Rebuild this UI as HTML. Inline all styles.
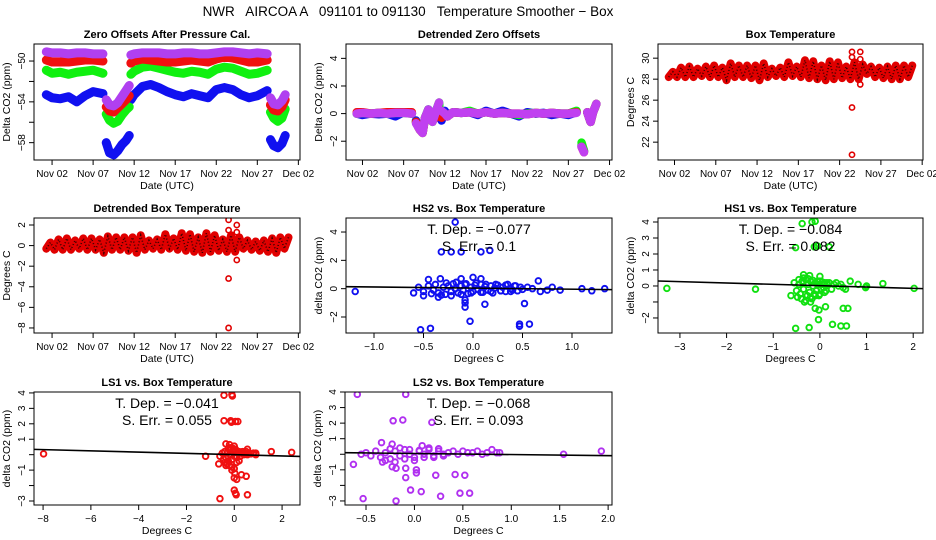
<!DOCTYPE html>
<html><head><meta charset="utf-8"><style>
body{margin:0;background:#fff;}
svg{display:block;font-family:"Liberation Sans",sans-serif;}
</style></head><body>
<svg id="chart" width="936" height="540" viewBox="0 0 936 540" xmlns="http://www.w3.org/2000/svg">
<rect width="936" height="540" fill="#fff"/>
<text x="408" y="16" font-size="13.5" text-anchor="middle" style="white-space:pre" xml:space="preserve">NWR   AIRCOA A   091101 to 091130   Temperature Smoother − Box</text>
</svg>
<script>
// ---- Panel 1: zero offsets ----
const p1T=[1.3,2,3,4,5,6,7,8.2,8.6,9,9.5,10,10.5,11,11.4,11.6,12,13,14,15,16,17,18,19,20,21,22,23,24,25,26,27,28.2,28.6,29,29.5,30,30.4];
const p1Blue=[-53.3,-53.6,-53.7,-53.5,-54,-53.4,-53,-53.2,-58,-59,-59.2,-58.8,-58.2,-57.8,-57.3,-53.8,-53.3,-52.5,-52.3,-52.6,-53,-53.3,-53.5,-53.2,-53.4,-53.6,-52.8,-52.6,-52.8,-53.3,-53.6,-53.4,-52.9,-57.7,-58.3,-58.5,-58.1,-57.3];
const p1Green=[-50.9,-51.2,-51.1,-51.3,-51.1,-51,-50.9,-51.2,-55.2,-55.8,-56.1,-55.9,-55.3,-54.8,-54.5,-51.3,-51,-50.6,-50.5,-50.7,-50.9,-51.1,-51.2,-51,-51.1,-51.3,-50.8,-50.6,-50.7,-51,-51.3,-51.2,-50.9,-55,-55.6,-55.9,-55.6,-54.7];
const p1Red=[-49.9,-50.1,-50.1,-50.1,-50,-49.9,-49.9,-50,-54.5,-54.9,-55,-54.6,-54.2,-53.8,-53.4,-50.2,-50,-49.8,-49.9,-50,-50.1,-50.1,-50,-49.9,-50,-50.1,-49.8,-49.6,-49.7,-49.9,-50.1,-50.1,-49.9,-54.3,-54.8,-54.9,-54.5,-53.8];
const p1Purple=[-49.1,-49.2,-49.2,-49.3,-49.2,-49.2,-49.3,-49.3,-53.8,-54.3,-54.4,-54.1,-53.5,-52.9,-52.4,-49.4,-49.3,-49.2,-49.2,-49.2,-49.3,-49.3,-49.2,-49.2,-49.3,-49.3,-49.2,-49.1,-49.1,-49.2,-49.3,-49.2,-49.3,-53.6,-54.2,-54.3,-53.9,-53.3];
const p1Gaps=[8.4,11.5,28.4];
// ---- Panel 2: detrended zero offsets ----
const p2T=[1.3,2,3,4,5,6,7,8,8.2,8.5,8.8,9,9.3,9.6,10,10.5,11,11.3,11.35,11.6,12,12.3,13,14,15,16,17,18,19,20,21,22,23,24,25,26,27,28,28.3,28.6,28.9,29.3,29.7,30,30.4];
const p2Blue=[0,-0.1,0,-0.05,0,-0.2,0.1,0,4.7,-0.5,-0.9,-1.1,-1.3,-0.3,0.3,-0.5,0.3,0.7,0.2,-0.5,0.2,-0.2,0.1,0.05,0.1,-0.1,0.2,0,0.2,0,-0.2,0.1,0,0.05,-0.1,0,-0.1,0.1,2.6,-2.3,-2.7,0.1,-0.6,0.1,0.7];
const p2Green=[0,0.05,0,0.05,0,0.05,0.05,0,4.0,-0.6,-1,-1.2,-1.4,-0.3,0.3,-0.6,0.3,0.8,0.2,0.2,0,-0.2,0.1,0.05,0.2,0,0.1,0,0.05,0,-0.1,0,0.05,0,0.05,0,0,0.2,2.5,-2.1,-2.7,0.1,-0.6,0.1,0.7];
const p2Red=[0.1,0.1,0,0.05,0.1,0.1,0.1,0.1,3.9,-0.6,-1,-1.2,-1.4,-0.3,0.2,-0.5,-0.2,-0.2,-0.2,-0.3,0,-0.2,0.1,0.05,0.1,0,0.1,0,0.05,0,0,-0.05,0.05,0,0.05,0,0,0.1,2.3,-2.4,-2.8,0.1,-0.6,0.1,0.7];
const p2Purple=[0,0.05,0,0.05,0,0.05,0.05,0,3.9,-0.7,-1,-1.2,-1.4,-0.3,0.3,-0.6,0.3,0.8,-3,0.2,0,-0.2,0.1,0.05,0.1,0,0.1,0,0.05,0,0,-0.05,0.05,0,0.05,0,0,0.05,2.2,-2.4,-2.8,0.1,-0.6,0.1,0.7];
// ---- Panel 3: box temperature (daily min/max) ----
const p3Day=[1,2,3,4,5,6,7,8,9,10,11,12,13,14,15,16,17,18,19,20,21,22,23,24,25,26,27,28,29,30];
const p3Max=[28.7,29.1,29.2,29.0,29.2,29.3,29.1,29.5,29.3,29.3,29.3,29.5,29.0,29.1,29.6,29.2,29.8,29.7,29.3,29.7,29.6,29.2,29.6,29.4,29.2,29.1,29.2,29.3,29.3,29.3];
const p3Min=[28.2,28.2,28.2,28.2,28.3,28.2,28.2,27.9,28.2,28.2,28.1,27.9,28.2,28.3,28.2,28.3,28.2,28.1,28.0,27.9,28.0,28.1,28.0,28.0,28.5,28.2,28.1,28.0,28.0,28.2];
const p3OutT=[23.5,23.5,23.5,23.5,24.5,24.5,24.5];
const p3OutV=[30.6,30.1,25.3,20.8,30.6,29.9,27.5];
// ---- Panel 4: detrended box temperature ----
const p4Max=[0.3,0.6,0.7,0.5,0.7,0.7,0.6,0.9,0.8,0.8,0.8,1.0,0.5,0.6,1.1,0.7,1.2,1.1,0.8,1.2,1.0,0.6,1.0,0.8,0.5,0.4,0.5,0.7,0.8,0.8];
const p4Min=[-0.3,-0.4,-0.4,-0.4,-0.3,-0.4,-0.4,-0.7,-0.4,-0.4,-0.5,-0.7,-0.4,-0.3,-0.4,-0.3,-0.4,-0.5,-0.6,-0.7,-0.6,-0.5,-0.6,-0.6,-0.3,-0.4,-0.5,-0.6,-0.7,-0.3];
const p4OutT=[23.5,23.5,23.5,23.5,24.5,24.5,24.5];
const p4OutV=[2.5,1.5,-3.2,-8,2,1.3,-1.4];
// ---- Scatter panels ----
const hs2X=[-1.19,-0.53,-0.43,-0.32,-0.22,-0.12,0.08,0.17,-0.18,-0.03,0.12,0.52,0.47,0.47,0.57,-0.08,-0.08,-0.08,-0.45,-0.33,-0.12,0,0.08,0.66,0.68,0.8,0.88,1.1,1.2,1.33,-0.6,-0.5,-0.35,0.75,
 -0.55,-0.5,-0.45,-0.4,-0.38,-0.35,-0.3,-0.28,-0.25,-0.22,-0.2,-0.18,-0.15,-0.12,-0.1,-0.08,-0.05,-0.02,0,0.02,0.05,0.08,0.1,0.12,0.15,0.18,0.2,0.22,0.25,0.28,0.3,0.33,0.35,0.38,0.4,0.42,0.45,0.48,0.5,0.55,0.6,-0.42,-0.32,-0.22,-0.12,-0.02,0.08,0.18,0.28,0.38,-0.27,-0.17,-0.07,0.03,0.13,0.23,0.33,0.43];
const hs2Y=[-0.2,-2.9,-2.8,2.6,2.6,2.6,2.6,2.7,4.7,-2.3,-1.1,-1.05,-2.5,-2.65,-2.5,-1.3,-1.0,-0.8,0.65,0.7,0.7,0.8,0.7,0.55,-0.2,0.1,-0.1,0,-0.15,0,-0.3,-0.5,-0.6,-0.1,
 0.1,-0.2,0.2,-0.1,0.3,-0.3,0.1,-0.4,0.2,-0.2,0.35,0,-0.3,0.2,-0.1,0.3,-0.35,0.1,-0.2,0.25,-0.05,0.3,-0.25,0.15,-0.1,0.2,-0.3,0.05,0.25,-0.15,0.1,-0.2,0.3,0,-0.1,0.2,-0.15,0.1,-0.05,0.1,0,-0.35,-0.45,-0.5,-0.4,-0.3,-0.25,-0.2,-0.15,-0.2,0.4,0.45,0.35,0.4,0.3,0.3,0.25,0.2];
const hs1X=[-3.28,-1.38,-0.38,-0.17,-0.1,-0.52,-0.12,-0.05,0.2,-0.52,-0.23,0.27,0.45,0.57,-0.03,-0.02,-0.1,0.12,0.5,0.6,-0.62,-0.33,-0.2,0,-0.35,-0.22,0.65,0.82,1.0,1.35,2.02,0.98,0.55,
 -0.55,-0.5,-0.45,-0.42,-0.38,-0.35,-0.3,-0.27,-0.25,-0.22,-0.2,-0.17,-0.15,-0.12,-0.1,-0.07,-0.05,-0.02,0,0.03,0.05,0.08,0.1,0.13,0.15,0.2,0.25,0.3,0.35,0.4,0.45,0.5,-0.48,-0.4,-0.3,-0.2,-0.1,0,0.1,-0.45,-0.35,-0.25,-0.15,-0.05,0.05,0.15];
const hs1Y=[-0.15,-0.2,3.9,4.0,4.05,2.4,2.45,2.5,2.45,-2.65,-2.6,-2.4,-2.5,-2.5,-2.1,-1.5,-1.4,-1.3,-1.4,-1.4,-0.6,-1.0,-1.0,0.6,0.7,0.65,0.3,0.1,0,0.15,-0.15,-0.1,-0.2,
 0.2,-0.3,0.1,-0.5,0.3,-0.2,0.4,-0.6,0.1,-0.4,0.3,-0.8,0,-0.5,0.2,-0.3,0.1,-0.6,0.3,-0.2,0.1,-0.1,0.2,-0.3,0.1,0.2,-0.2,0.1,0.2,0,0.1,-0.1,-0.7,-0.8,-0.9,-0.7,-0.6,-0.5,-0.4,0.4,0.5,0.45,0.35,0.3,0.25,0.2];
const ls1X=[-7.98,-1.2,-0.43,-0.1,-0.08,-0.43,-0.15,-0.12,0.05,0.15,-0.6,0,0.05,0.08,0.55,-0.65,-0.35,-0.1,0,0.1,0.3,0.5,0.02,-0.35,-0.2,0,0.55,0.9,1.55,2.4,
 -0.6,-0.5,-0.45,-0.4,-0.35,-0.3,-0.25,-0.2,-0.15,-0.1,-0.05,0,0.05,0.1,0.15,0.2,0.25,0.3,0.35,0.4,0.45,0.5,0.55,0.6,0.7,0.8,0.9,-0.4,-0.3,-0.2,-0.1,0,0.1,0.2,-0.25,-0.15,-0.05,0.05];
const ls1Y=[0.05,-0.1,3.85,3.9,3.8,2.2,2.2,2.1,2.15,2.15,-2.85,-2.3,-2.5,-2.6,-2.6,-0.6,-0.7,-1.0,-1.5,-1.6,-1.3,-1.4,-1.2,0.7,0.65,0.55,0.35,0.1,0.2,0.15,
 -0.1,0.1,-0.3,0.2,-0.2,0.1,-0.4,0.3,0,-0.3,0.2,-0.1,0.3,-0.2,0.1,0.2,-0.1,0.1,0.2,0,0.1,0.2,0,0.1,0.05,0.1,0,-0.5,-0.6,-0.7,-0.8,-0.9,-0.5,-0.4,0.4,0.45,0.4,0.35];
const ls2X=[-0.59,-0.09,-0.22,-0.12,0.18,-0.63,-0.53,-0.19,-0.04,0.07,0.27,0.47,0.57,0.02,0.02,-0.09,-0.09,-0.19,0.22,0.42,0.52,-0.34,-0.23,0.08,1.54,1.93,0.88,-0.23,-0.33,
 -0.55,-0.5,-0.45,-0.4,-0.35,-0.3,-0.25,-0.2,-0.15,-0.1,-0.05,0,0.05,0.1,0.15,0.2,0.25,0.3,0.35,0.4,0.45,0.5,0.55,0.6,0.65,0.7,0.75,0.8,0.85,-0.3,-0.2,-0.1,0,0.1,0.2,0.3,-0.25,-0.15,-0.05,0.05,0.15,0.25];
const ls2Y=[3.85,3.85,2.15,2.2,2.05,-0.65,-2.85,-3.0,-2.3,-2.4,-2.7,-2.5,-2.5,-1.0,-1.2,-1.5,-0.9,-0.9,-1.35,-1.3,-1.35,0.75,0.65,0.55,0.0,0.2,0.1,-0.8,-0.5,
 0,0.1,-0.1,0.2,-0.2,0.1,-0.3,0.2,-0.1,0.3,0,-0.2,0.2,0,0.3,-0.1,0.2,0,0.1,0.2,0,0.2,0.1,0.1,0.2,0,0.1,0.3,0.1,-0.4,-0.5,-0.3,-0.4,-0.2,-0.2,-0.1,0.35,0.4,0.3,0.25,0.4,0.35];
const dateTicks=[2,7,12,17,22,27,32];
const dateLabels=["Nov 02","Nov 07","Nov 12","Nov 17","Nov 22","Nov 27","Dec 02"];

const svg=document.getElementById('chart');
const NS='http://www.w3.org/2000/svg';
function mk(tag,attrs,parent){const e=document.createElementNS(NS,tag);for(const k in attrs)e.setAttribute(k,attrs[k]);(parent||svg).appendChild(e);return e;}

function panel(o){
  const g=mk('g',{});
  
  
  const sx=v=>o.box[0]+(v-o.xd[0])/(o.xd[1]-o.xd[0])*(o.box[2]-o.box[0]);
  const sy=v=>o.box[3]-(v-o.yd[0])/(o.yd[1]-o.yd[0])*(o.box[3]-o.box[1]);
  const t=mk('text',{x:(o.box[0]+o.box[2])/2,y:o.box[1]-6,'font-size':11,'font-weight':'bold','text-anchor':'middle'},g);
  t.textContent=o.title;
  
  
  o.xt.forEach((v,i)=>{const x=sx(v);
    mk('line',{x1:x,x2:x,y1:o.box[3],y2:o.box[3]+5,stroke:'#000'},g);
    const l=mk('text',{x:x,y:o.box[3]+17,'font-size':10,'text-anchor':'middle'},g);
    l.textContent=o.xl[i];
    
    });
  o.yt.forEach((v,i)=>{const y=sy(v);
    mk('line',{x1:o.box[0]-5,x2:o.box[0],y1:y,y2:y,stroke:'#000'},g);
    if(o.yl[i]!==''){const l=mk('text',{x:o.box[0]-9,y:y,'font-size':10,'text-anchor':'middle',transform:`rotate(-90 ${o.box[0]-9} ${y})`},g);
    l.textContent=o.yl[i];
    
    }});
  const xt=mk('text',{x:(o.box[0]+o.box[2])/2,y:o.box[3]+29,'font-size':10.5,'text-anchor':'middle'},g);
  xt.textContent=o.xlab;
  
  
  const yc=(o.box[1]+o.box[3])/2,yx=o.box[0]-24;
  const yt=mk('text',{x:yx,y:yc,'font-size':10.5,'text-anchor':'middle',transform:`rotate(-90 ${yx} ${yc})`},g);
  yt.textContent=o.ylab;
  
  
  const clip='c'+o.name;
  const cp=mk('clipPath',{id:clip},g);mk('rect',{x:o.box[0],y:o.box[1],width:o.box[2]-o.box[0],height:o.box[3]-o.box[1]},cp);
  const d=mk('g',{'clip-path':`url(#${clip})`},g);
  
  
  o.draw(d,sx,sy);
  mk('rect',{x:o.box[0],y:o.box[1],width:o.box[2]-o.box[0],height:o.box[3]-o.box[1],fill:'none',stroke:'#000','stroke-width':1},g);
}
function band(d,sx,sy,T,V,color,w,jump,gaps,name){
  let seg=[];const segs=[];
  for(let i=0;i<T.length;i++){
    if(i>0){const brk=Math.abs(V[i]-V[i-1])>jump||(gaps&&gaps.some(gp=>T[i-1]<gp&&T[i]>gp));if(brk){segs.push(seg);seg=[];}}
    seg.push([sx(T[i]),sy(V[i])]);
  }
  segs.push(seg);
  segs.forEach(s=>{const p=mk('polyline',{points:s.map(q=>q.join(',')).join(' '),fill:'none',stroke:color,'stroke-width':w,'stroke-linejoin':'round','stroke-linecap':'round'},d);
    
    });
}
function tempBand(d,sx,sy,mx,mn,name){
  const T=[],V=[];
  p3Day.forEach((dd,i)=>{T.push(dd+0.3);V.push(mn[i]);T.push(dd+0.8);V.push(mx[i]);});
  band(d,sx,sy,T,V,'#e00000',8,99,null,name);
  const pts=T.map((t,i)=>sx(t)+','+sy(V[i])).join(' ');
  mk('polyline',{points:pts,fill:'none',stroke:'#000','stroke-width':1.6,'stroke-dasharray':'1 2.2',opacity:0.75},d);
}
function outliers(d,sx,sy,T,V,name){
  T.forEach((t,i)=>{const c=mk('circle',{cx:sx(t),cy:sy(V[i]),r:2.6,fill:'none',stroke:'#e00000','stroke-width':1.6},d);
    
    });
}
function scatter(d,sx,sy,X,Y,color,slope,icpt,xd,name){
  X.forEach((x,i)=>{const c=mk('circle',{cx:sx(x),cy:sy(Y[i]),r:2.8,fill:'none',stroke:color,'stroke-width':1.9},d);
    
    });
  const l=mk('line',{x1:sx(xd[0]),y1:sy(icpt+slope*xd[0]),x2:sx(xd[1]),y2:sy(icpt+slope*xd[1]),stroke:'#000','stroke-width':1.6},d);
  
  
}
function stats(o,dep,err){
  const cx=(o.box[0]+o.box[2])/2;
  const a=mk('text',{x:cx,y:o.box[1]+16,'font-size':14,'text-anchor':'middle'});
  a.textContent='T. Dep. =  '+dep;
  
  
  const b=mk('text',{x:cx,y:o.box[1]+33,'font-size':14,'text-anchor':'middle'});
  b.textContent='S. Err. =  '+err;
  
  
}
const R1=[44,160],R2=[218,333],R3=[392,505];
panel({name:'zero-offsets-panel',box:[34,R1[0],300,R1[1]],xd:[-0.2,32.2],yd:[-59.7,-48.33],xt:dateTicks,xl:dateLabels,
 yt:[-50,-52,-54,-56,-58],yl:['−50','','−54','','−58'],title:'Zero Offsets After Pressure Cal.',xlab:'Date (UTC)',ylab:'Delta CO2 (ppm)',
 draw:(d,sx,sy)=>{band(d,sx,sy,p1T,p1Blue,'#1010f0',9,99,p1Gaps,'series-blue');band(d,sx,sy,p1T,p1Green,'#10f010',9,99,p1Gaps,'series-green');
  band(d,sx,sy,p1T,p1Red,'#f01010',9,99,p1Gaps,'series-red');band(d,sx,sy,p1T,p1Purple,'#b040f0',9,99,p1Gaps,'series-purple');}});
panel({name:'detrended-zero-offsets-panel',box:[346,R1[0],612,R1[1]],xd:[0,32.3],yd:[-3.36,5.04],xt:dateTicks,xl:dateLabels,
 yt:[-2,0,2,4],yl:['−2','0','2','4'],title:'Detrended Zero Offsets',xlab:'Date (UTC)',ylab:'Delta CO2 (ppm)',
 draw:(d,sx,sy)=>{[[p2Blue,'#1010f0','series-blue'],[p2Green,'#10f010','series-green'],[p2Red,'#f01010','series-red'],[p2Purple,'#c040f0','series-purple']].forEach(s=>band(d,sx,sy,p2T,s[0],s[1],8.5,1.5,null,s[2]));}});
panel({name:'box-temperature-panel',box:[658,R1[0],923,R1[1]],xd:[0,32.1],yd:[20.3,31.35],xt:dateTicks,xl:dateLabels,
 yt:[22,24,26,28,30],yl:['22','24','26','28','30'],title:'Box Temperature',xlab:'Date (UTC)',ylab:'Degrees C',
 draw:(d,sx,sy)=>{tempBand(d,sx,sy,p3Max,p3Min,'box-temp-series');outliers(d,sx,sy,p3OutT,p3OutV,'box-temp-outlier');}});
panel({name:'detrended-box-temperature-panel',box:[34,R2[0],300,R2[1]],xd:[-0.2,32.2],yd:[-8.49,2.68],xt:dateTicks,xl:dateLabels,
 yt:[-8,-6,-4,-2,0,2],yl:['−8','−6','−4','−2','0','2'],title:'Detrended Box Temperature',xlab:'Date (UTC)',ylab:'Degrees C',
 draw:(d,sx,sy)=>{tempBand(d,sx,sy,p4Max,p4Min,'detrended-temp-series');outliers(d,sx,sy,p4OutT,p4OutV,'detrended-temp-outlier');}});
const P5={name:'hs2-vs-box-temperature-panel',box:[346,R2[0],612,R2[1]],xd:[-1.283,1.404],yd:[-3.13,4.99],xt:[-1,-0.5,0,0.5,1],xl:['−1.0','−0.5','0.0','0.5','1.0'],
 yt:[-2,0,2,4],yl:['−2','0','2','4'],title:'HS2 vs. Box Temperature',xlab:'Degrees C',ylab:'delta CO2 (ppm)',
 draw:(d,sx,sy)=>scatter(d,sx,sy,hs2X,hs2Y,'#1010f0',-0.077,0.04,[-1.283,1.404],'hs2-point')};
panel(P5);stats(P5,'−0.077','0.1');
const P6={name:'hs1-vs-box-temperature-panel',box:[658,R2[0],923,R2[1]],xd:[-3.47,2.21],yd:[-2.94,4.25],xt:[-3,-2,-1,0,1,2],xl:['−3','−2','−1','0','1','2'],
 yt:[-2,-1,0,1,2,3,4],yl:['−2','','0','1','2','3','4'],title:'HS1 vs. Box Temperature',xlab:'Degrees C',ylab:'delta CO2 (ppm)',
 draw:(d,sx,sy)=>scatter(d,sx,sy,hs1X,hs1Y,'#10e010',-0.084,0.02,[-3.47,2.21],'hs1-point')};
panel(P6);stats(P6,'−0.084','0.082');
const P7={name:'ls1-vs-box-temperature-panel',box:[34,R3[0],300,R3[1]],xd:[-8.38,2.75],yd:[-3.26,4.06],xt:[-8,-6,-4,-2,0,2],xl:['−8','−6','−4','−2','0','2'],
 yt:[-3,-2,-1,0,1,2,3,4],yl:['−3','','−1','','1','2','3','4'],title:'LS1 vs. Box Temperature',xlab:'Degrees C',ylab:'delta CO2 (ppm)',
 draw:(d,sx,sy)=>scatter(d,sx,sy,ls1X,ls1Y,'#f01010',-0.041,0.0,[-8.38,2.75],'ls1-point')};
panel(P7);stats(P7,'−0.041','0.055');
const P8={name:'ls2-vs-box-temperature-panel',box:[345,R3[0],612,R3[1]],xd:[-0.717,2.04],yd:[-3.26,4.0],xt:[-0.5,0,0.5,1,1.5,2],xl:['−0.5','0.0','0.5','1.0','1.5','2.0'],
 yt:[-3,-2,-1,0,1,2,3,4],yl:['−3','','−1','','1','2','3','4'],title:'LS2 vs. Box Temperature',xlab:'Degrees C',ylab:'delta CO2 (ppm)',
 draw:(d,sx,sy)=>scatter(d,sx,sy,ls2X,ls2Y,'#b030f0',-0.068,0.05,[-0.717,2.04],'ls2-point')};
panel(P8);stats(P8,'−0.068','0.093');
</script>
</body></html>
